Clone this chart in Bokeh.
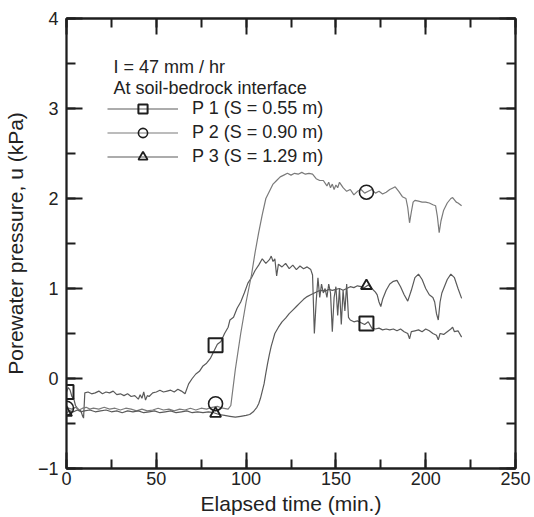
from bokeh.plotting import figure
from bokeh.models import (Range1d, Legend, LegendItem, Label, SingleIntervalTicker, LinearAxis)
from bokeh.embed import file_html
from bokeh.resources import INLINE

# ---------------- data ----------------
p1_t = [0, 1, 2, 3, 4, 5, 6, 7, 8, 9, 9.5, 10.2, 12, 14, 16, 18, 20, 22, 24, 26, 28, 30, 32, 34, 36, 38,
        40, 41, 42, 43, 44, 45, 46, 48, 50, 52, 54, 56, 58, 60, 62, 64, 66, 68, 70, 72, 74, 76, 78, 80,
        82, 84, 86, 88, 90, 91, 93, 95, 97, 99, 101, 103, 105, 107, 109, 111, 113, 114, 115, 116, 117,
        118, 120, 122, 124, 126, 128, 130, 132, 134, 136, 137, 138, 139, 140, 141, 142, 143, 144, 145,
        146, 147, 148, 149, 150, 151, 152, 153, 154, 155, 156, 157, 158, 160, 162, 164, 166, 168, 170,
        172, 174, 176, 178, 180, 182, 184, 186, 188, 190, 191, 192, 194, 196, 198, 200, 202, 204, 206,
        207, 208, 210, 212, 214, 215, 216, 218, 220]
p1_u = [-0.15, -0.10, -0.13, -0.20, -0.22, -0.30, -0.33, -0.35, -0.36, -0.42, -0.44, -0.16, -0.15,
        -0.17, -0.16, -0.14, -0.17, -0.15, -0.16, -0.14, -0.18, -0.17, -0.19, -0.17, -0.20, -0.19,
        -0.23, -0.18, -0.22, -0.15, -0.24, -0.19, -0.20, -0.16, -0.15, -0.13, -0.15, -0.14, -0.13,
        -0.15, -0.12, -0.14, -0.17, -0.06, 0.00, 0.05, 0.08, 0.14, 0.17, 0.22, 0.30, 0.38, 0.41, 0.50,
        0.57, 0.65, 0.68, 0.78, 0.85, 0.95, 1.06, 1.12, 1.20, 1.26, 1.33, 1.28, 1.32, 1.36, 1.30, 1.33,
        1.14, 1.27, 1.24, 1.28, 1.22, 1.26, 1.21, 1.25, 1.22, 1.24, 1.21, 1.15, 0.50, 0.85, 1.12, 0.90,
        1.05, 0.95, 1.00, 0.90, 1.05, 0.95, 0.52, 0.90, 1.02, 0.70, 1.00, 0.60, 0.98, 0.75, 1.05, 0.68,
        0.65, 0.63, 0.64, 0.62, 0.60, 0.63, 0.56, 0.55, 0.56, 0.54, 0.55, 0.54, 0.55, 0.53, 0.55, 0.52,
        0.50, 0.44, 0.52, 0.53, 0.54, 0.52, 0.55, 0.53, 0.50, 0.48, 0.43, 0.50, 0.49, 0.52, 0.55, 0.57,
        0.52, 0.53, 0.46]

p2_t = [0, 1, 3, 5, 7, 9, 11, 13, 15, 18, 21, 24, 27, 30, 33, 36, 39, 42, 45, 48, 51, 54, 57, 60, 63,
        66, 69, 72, 75, 78, 81, 84, 87, 90, 91.5, 94, 97, 100, 103, 105, 107, 109, 111, 113, 115, 117,
        119, 121, 123, 125, 127, 129, 131, 133, 135, 137, 139, 141, 143, 145, 146, 147, 148, 149, 150,
        151, 152, 154, 156, 158, 160, 162, 164, 166, 168, 170, 172, 174, 176, 178, 180, 182, 183, 185,
        187, 189, 190, 191, 192, 193, 194, 196, 198, 200, 202, 204, 205.5, 206.5, 207.5, 208.5, 210,
        212, 214, 215, 217, 218, 220]
p2_u = [-0.30, -0.33, -0.34, -0.32, -0.35, -0.33, -0.32, -0.34, -0.33, -0.34, -0.32, -0.34, -0.33,
        -0.35, -0.33, -0.34, -0.36, -0.34, -0.36, -0.35, -0.33, -0.35, -0.34, -0.36, -0.34, -0.35,
        -0.33, -0.35, -0.33, -0.34, -0.32, -0.31, -0.33, -0.34, -0.30, 0.10, 0.50, 0.85, 1.15, 1.40,
        1.62, 1.82, 2.00, 2.08, 2.16, 2.20, 2.24, 2.26, 2.28, 2.26, 2.28, 2.27, 2.29, 2.27, 2.28, 2.27,
        2.22, 2.20, 2.20, 2.14, 2.18, 2.12, 2.16, 2.10, 2.15, 2.12, 2.18, 2.12, 2.08, 2.10, 2.04, 2.08,
        2.10, 2.06, 2.08, 2.10, 2.06, 2.08, 2.05, 2.07, 2.10, 2.12, 2.13, 2.08, 2.02, 2.00, 1.90, 1.73,
        1.85, 1.96, 1.98, 1.97, 1.96, 1.96, 1.95, 1.93, 1.92, 1.80, 1.62, 1.75, 1.87, 1.95, 2.00, 2.01,
        1.96, 1.95, 1.92]

p3_t = [0, 2, 4, 6, 8, 10, 13, 16, 19, 22, 25, 28, 31, 34, 37, 40, 43, 46, 49, 52, 55, 58, 61, 64, 67,
        70, 73, 76, 79, 82, 85, 88, 91, 94, 97, 100, 102, 104, 106, 107, 108, 109, 110, 111, 112, 113,
        114, 115, 116, 118, 120, 122, 124, 126, 128, 130, 132, 134, 136, 138, 140, 142, 144, 146, 148,
        150, 152, 154, 156, 158, 160, 162, 164, 166, 168, 170, 172, 173, 174, 175, 176, 178, 180, 182,
        184, 186, 188, 190, 192, 194, 196, 198, 200, 202, 204, 205, 206, 207, 208, 209, 210, 212, 214,
        216, 218, 220]
p3_u = [-0.38, -0.36, -0.37, -0.35, -0.37, -0.36, -0.35, -0.37, -0.36, -0.35, -0.37, -0.36, -0.38,
        -0.36, -0.37, -0.36, -0.38, -0.37, -0.36, -0.38, -0.37, -0.36, -0.38, -0.37, -0.36, -0.38,
        -0.37, -0.38, -0.37, -0.38, -0.40, -0.41, -0.42, -0.43, -0.42, -0.41, -0.40, -0.37, -0.32,
        -0.28, -0.22, -0.14, -0.06, 0.06, 0.17, 0.27, 0.36, 0.43, 0.50, 0.57, 0.63, 0.67, 0.72, 0.76,
        0.80, 0.84, 0.88, 0.91, 0.93, 0.95, 0.97, 0.98, 0.97, 0.99, 0.98, 0.99, 1.00, 0.98, 1.00, 1.02,
        1.01, 1.03, 1.02, 1.01, 1.04, 1.00, 0.96, 0.93, 0.85, 0.80, 0.88, 0.98, 1.05, 1.08, 1.09, 1.02,
        0.93, 0.86, 0.98, 1.12, 1.16, 1.10, 1.00, 0.93, 0.90, 0.85, 0.72, 0.65, 0.85, 0.95, 1.00, 1.10,
        1.16, 1.12, 1.00, 0.89]

marker_t = [0, 83, 167]
p1_mark = [-0.15, 0.37, 0.61]
p2_mark = [-0.33, -0.28, 2.07]
p3_mark = [-0.38, -0.39, 1.03]

labels = ["P 1 (S = 0.55 m)", "P 2 (S = 0.90 m)", "P 3 (S = 1.29 m)"]
header1 = "I = 47 mm / hr"
header2 = "At soil-bedrock interface"
x_label = "Elapsed time (min.)"
y_label = "Porewater pressure, u (kPa)"

X_MIN, X_MAX, Y_MIN, Y_MAX = 0, 250, -1, 4

FONT = "Liberation Sans"
DARK = "#1e1e1e"
TEXT = "#222222"
CURVE = "#5a5a5a"

p = figure(width=534, height=517, output_backend="svg", toolbar_location=None,
           x_range=Range1d(X_MIN, X_MAX), y_range=Range1d(Y_MIN, Y_MAX),
           min_border_left=66, min_border_right=19, min_border_top=18, min_border_bottom=48,
           background_fill_color="white", border_fill_color="white")
p.grid.visible = False
p.outline_line_color = DARK
p.outline_line_width = 1.8


def style(ax, show_labels):
    ax.axis_line_color = DARK
    ax.axis_line_width = 1.8
    ax.major_tick_in = 16
    ax.major_tick_out = 0
    ax.minor_tick_in = 9
    ax.minor_tick_out = 0
    ax.major_tick_line_color = DARK
    ax.major_tick_line_width = 2
    ax.minor_tick_line_color = DARK
    ax.minor_tick_line_width = 2
    ax.major_label_text_font = FONT
    ax.major_label_text_color = TEXT
    ax.axis_label_text_font = FONT
    ax.axis_label_text_font_style = "normal"
    ax.axis_label_text_color = TEXT
    if show_labels:
        ax.major_label_text_font_size = "18px"
        ax.axis_label_text_font_size = "21px"
    else:
        ax.major_label_text_font_size = "0px"
        ax.major_label_standoff = 0


p.xaxis.ticker = SingleIntervalTicker(interval=50, num_minor_ticks=2)
p.yaxis.ticker = SingleIntervalTicker(interval=1, num_minor_ticks=2)
style(p.xaxis[0], True)
style(p.yaxis[0], True)
p.xaxis.major_label_standoff = 3
p.xaxis.axis_label = x_label
p.xaxis.axis_label_standoff = 4
p.yaxis.major_label_standoff = 8
p.yaxis.axis_label = y_label
p.yaxis.axis_label_standoff = 8

top = LinearAxis(ticker=SingleIntervalTicker(interval=50, num_minor_ticks=2))
right = LinearAxis(ticker=SingleIntervalTicker(interval=1, num_minor_ticks=2))
style(top, False)
style(right, False)
p.add_layout(top, "above")
p.add_layout(right, "right")

# curves
l1 = p.line(p1_t, p1_u, line_color=CURVE, line_width=1.2)
l2 = p.line(p2_t, p2_u, line_color="#7a7a7a", line_width=1.2)
l3 = p.line(p3_t, p3_u, line_color=CURVE, line_width=1.2)

m1 = p.scatter(marker_t, p1_mark, marker="square", size=14, fill_alpha=0,
               line_color=DARK, line_width=2)
m2 = p.scatter(marker_t, p2_mark, marker="circle", size=14, fill_alpha=0,
               line_color=DARK, line_width=1.6)
m3 = p.scatter(marker_t, p3_mark, marker="triangle", size=11, fill_alpha=0,
               line_color=DARK, line_width=1.8)

legend = Legend(items=[LegendItem(label=labels[0], renderers=[l1, m1]),
                       LegendItem(label=labels[1], renderers=[l2, m2]),
                       LegendItem(label=labels[2], renderers=[l3, m3])],
                location=(41, 300), orientation="vertical",
                glyph_width=71, glyph_height=23, label_height=23, spacing=1,
                label_standoff=14, padding=0, margin=0,
                border_line_alpha=0, background_fill_alpha=0,
                label_text_font=FONT, label_text_font_size="18px", label_text_color=TEXT)
p.add_layout(legend)

p.add_layout(Label(x=26.2, y=3.46, text=header1, text_font=FONT, text_font_size="18px",
                   text_color=TEXT, text_baseline="alphabetic"))
p.add_layout(Label(x=26.2, y=3.23, text=header2, text_font=FONT, text_font_size="18px",
                   text_color=TEXT, text_baseline="alphabetic"))

open("out.html", "w").write(file_html(p, INLINE))
